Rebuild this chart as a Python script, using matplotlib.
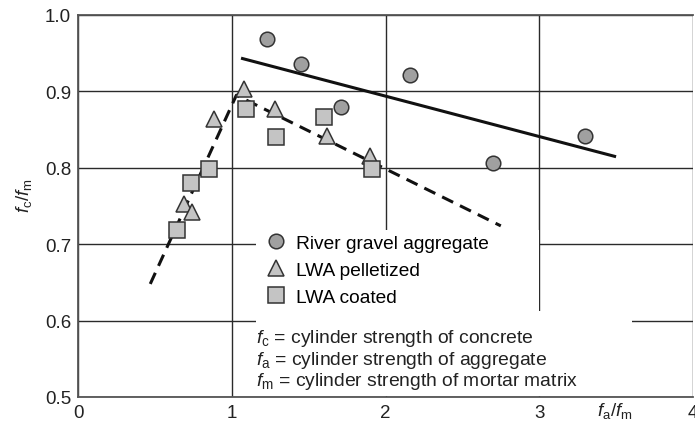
import matplotlib.pyplot as plt
from matplotlib.patches import Rectangle

plt.rcParams['font.family'] = ['Liberation Sans', 'DejaVu Sans']
plt.rcParams['mathtext.fontset'] = 'custom'
plt.rcParams['mathtext.rm'] = 'Liberation Sans'
plt.rcParams['mathtext.it'] = 'Liberation Sans:italic'

# fa/fm against fc/fm
gravel_x = [1.23, 1.45, 1.71, 2.16, 2.70, 3.30]
gravel_y = [0.968, 0.936, 0.880, 0.922, 0.806, 0.842]

pellet_x = [0.69, 0.74, 0.885, 1.08, 1.28, 1.62, 1.90]
pellet_y = [0.753, 0.742, 0.864, 0.903, 0.877, 0.841, 0.815]

coated_x = [0.643, 0.732, 0.852, 1.095, 1.29, 1.60, 1.91]
coated_y = [0.718, 0.780, 0.798, 0.877, 0.840, 0.866, 0.799]

# trend lines
gravel_fit_x = [1.07, 3.49]
gravel_fit_y = [0.943, 0.815]
lwa_fit_x = [0.47, 1.03, 2.75]
lwa_fit_y = [0.648, 0.895, 0.724]

xticks = [0, 1, 2, 3, 4]
yticks = [0.5, 0.6, 0.7, 0.8, 0.9, 1.0]

fs = 13.5

fig = plt.figure(figsize=(6.95, 4.27), dpi=100)
ax = fig.add_axes([78 / 695, 29 / 427, 615 / 695, 382 / 427])
ax.set_xlim(0, 4)
ax.set_ylim(0.5, 1.0)
ax.set_xticks(xticks)
ax.set_yticks(yticks)
ax.set_xticklabels([str(t) for t in xticks])
ax.set_yticklabels(['%.1f' % t for t in yticks])
ax.tick_params(length=0, labelsize=fs, pad=5, colors='#222222')
ax.grid(True, color='#2a2a2a', lw=1.0)
for s in ['left', 'bottom', 'top']:
    ax.spines[s].set_color('#555555')
    ax.spines[s].set_linewidth(1.3)
ax.spines['right'].set_visible(False)

# white boxes behind the key and the notes
ax.add_patch(Rectangle((1.16, 0.613), 1.84, 0.106, facecolor='white',
                       edgecolor='none', zorder=1.8))
ax.add_patch(Rectangle((1.16, 0.501), 2.44, 0.112, facecolor='white',
                       edgecolor='none', zorder=1.8))

ax.plot(gravel_fit_x, gravel_fit_y, color='#111111', lw=2.2, zorder=2)
ax.plot(lwa_fit_x, lwa_fit_y, color='#111111', lw=2.2, ls=(0, (4, 2.5)), zorder=2)

ax.plot(gravel_x, gravel_y, 'o', ms=10.5, mfc='#a0a0a0', mec='#333333',
        mew=1.1, ls='none', zorder=3, label='River gravel aggregate')
ax.plot(pellet_x, pellet_y, '^', ms=12, mfc='#c4c4c4', mec='#333333',
        mew=1.1, ls='none', zorder=3, label='LWA pelletized')
ax.plot(coated_x, coated_y, 's', ms=11, mfc='#c4c4c4', mec='#333333',
        mew=1.1, ls='none', zorder=3, label='LWA coated')

leg = ax.legend(loc='upper left', bbox_to_anchor=(0.293, 0.445), frameon=False,
                fontsize=13.8, handletextpad=0.45, labelspacing=0.5,
                borderaxespad=0, handlelength=1.1)

notes = [r'$f_\mathrm{c}$ = cylinder strength of concrete',
         r'$f_\mathrm{a}$ = cylinder strength of aggregate',
         r'$f_\mathrm{m}$ = cylinder strength of mortar matrix']
for i, t in enumerate(notes):
    ax.text(1.16, 0.578 - i * 0.0285, t, fontsize=13.9, va='center',
            ha='left', color='#222222', zorder=4)

ax.text(3.49, -0.035, r'$f_\mathrm{a}/f_\mathrm{m}$', transform=ax.get_xaxis_transform(),
        ha='center', va='center', fontsize=fs, color='#222222')
ax.set_ylabel(r'$f_\mathrm{c}/f_\mathrm{m}$', fontsize=fs, y=0.53, labelpad=8,
              color='#222222')

fig.savefig('out.png', dpi=100)
